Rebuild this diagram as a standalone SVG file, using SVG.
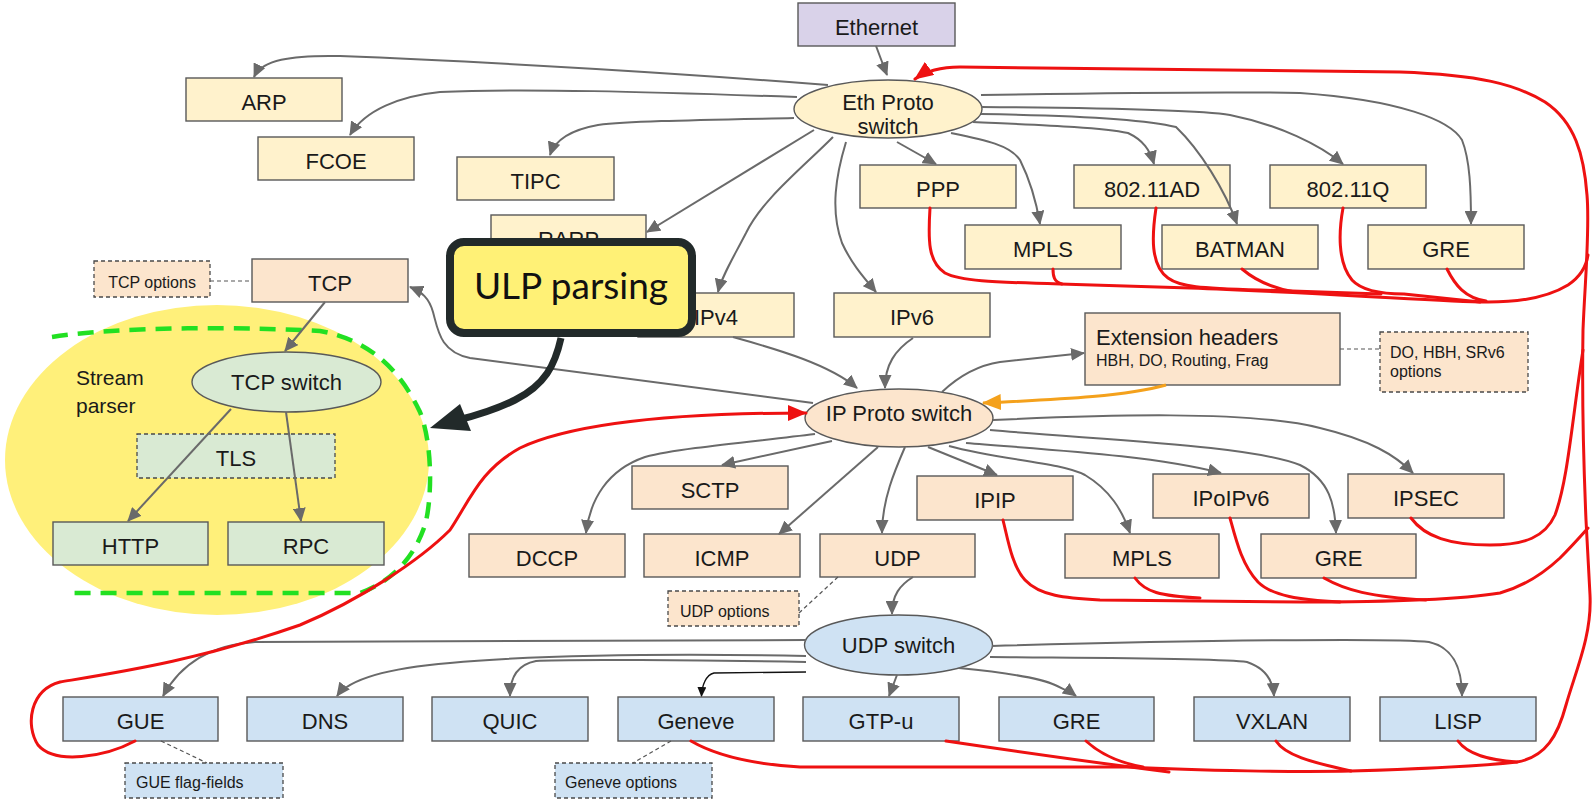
<svg xmlns="http://www.w3.org/2000/svg" width="1594" height="800" viewBox="0 0 1594 800">
  <defs>
    <style>
      .box { stroke: #595959; stroke-width: 1.4; }
      .dash { stroke: #4a4a4a; stroke-width: 1.3; stroke-dasharray: 4 3; }
      .eth { fill: #fff2cc; }
      .ip { fill: #fce5cd; }
      .udp { fill: #cfe2f3; }
      .tcp { fill: #d9ead3; }
      .lbl { font-family: "Liberation Sans", Arial, sans-serif; font-size: 22px; fill: #1a1a1a; text-anchor: middle; }
      .small { font-family: "Liberation Sans", Arial, sans-serif; font-size: 16px; fill: #1a1a1a; }
      .gray { fill: none; stroke: #6a6a6a; stroke-width: 2; marker-end: url(#ah-gray); }
      .red { fill: none; stroke: #ee1111; stroke-width: 3; stroke-linecap: round; stroke-linejoin: round; }
      .thin { fill: none; stroke: #555; stroke-width: 1.2; stroke-dasharray: 4 3; }
    </style>
    <marker id="ah-gray" markerUnits="userSpaceOnUse" markerWidth="15" markerHeight="13" refX="13" refY="6.5" orient="auto">
      <path d="M0,0 L14,6.5 L0,13 z" fill="#6a6a6a"/>
    </marker>
    <marker id="ah-red" markerUnits="userSpaceOnUse" markerWidth="20" markerHeight="16" refX="18" refY="8" orient="auto">
      <path d="M0,0 L19,8 L0,16 z" fill="#ee1111"/>
    </marker>
    <marker id="ah-orange" markerUnits="userSpaceOnUse" markerWidth="20" markerHeight="16" refX="18" refY="8" orient="auto">
      <path d="M0,0 L19,8 L0,16 z" fill="#f4a11c"/>
    </marker>
    <marker id="ah-black" markerUnits="userSpaceOnUse" markerWidth="10" markerHeight="9" refX="9" refY="4.5" orient="auto">
      <path d="M0,0 L10,4.5 L0,9 z" fill="#111"/>
    </marker>
  </defs>

  <rect width="1594" height="800" fill="#ffffff"/>

  <!-- stream parser area -->
  <g id="stream-parser">
    <ellipse cx="217" cy="460" rx="212" ry="155" fill="#fff07a"/>
    <path d="M52 337 C 120 326 250 327 320 331 C 370 340 400 370 420 412 C 433 445 432 500 425 525 C 415 555 395 580 360 593 L 70 593" fill="none" stroke="#22e022" stroke-width="4.5" stroke-dasharray="16 10"/>
    <text x="76" y="385" font-family="'Liberation Sans', Arial, sans-serif" font-size="21" fill="#1a1a1a">Stream</text>
    <text x="76" y="413" font-family="'Liberation Sans', Arial, sans-serif" font-size="21" fill="#1a1a1a">parser</text>
  </g>

  <!-- Ethernet layer -->
  <g id="ethernet"><rect class="box" x="798" y="3" width="157" height="43" fill="#d9d2e9"/><text class="lbl" x="876.5" y="35">Ethernet</text></g>
  <g id="eth-proto-switch"><ellipse class="box eth" cx="888" cy="109" rx="94" ry="29"/><text class="lbl" x="888" y="110">Eth Proto</text><text class="lbl" x="888" y="134">switch</text></g>
  <g id="arp"><rect class="box eth" x="186" y="78" width="156" height="43"/><text class="lbl" x="264" y="110">ARP</text></g>
  <g id="fcoe"><rect class="box eth" x="258" y="137" width="156" height="43"/><text class="lbl" x="336" y="169">FCOE</text></g>
  <g id="tipc"><rect class="box eth" x="457" y="157" width="157" height="43"/><text class="lbl" x="535.5" y="189">TIPC</text></g>
  <g id="rarp"><rect class="box eth" x="491" y="215" width="155" height="44"/><text class="lbl" x="568.5" y="247">RARP</text></g>
  <g id="ppp"><rect class="box eth" x="860" y="165" width="156" height="43"/><text class="lbl" x="938" y="197">PPP</text></g>
  <g id="eth-80211ad"><rect class="box eth" x="1074" y="165" width="156" height="43"/><text class="lbl" x="1152" y="197">802.11AD</text></g>
  <g id="eth-80211q"><rect class="box eth" x="1270" y="165" width="156" height="43"/><text class="lbl" x="1348" y="197">802.11Q</text></g>
  <g id="eth-mpls"><rect class="box eth" x="965" y="225" width="156" height="44"/><text class="lbl" x="1043" y="257">MPLS</text></g>
  <g id="batman"><rect class="box eth" x="1162" y="225" width="156" height="44"/><text class="lbl" x="1240" y="257">BATMAN</text></g>
  <g id="eth-gre"><rect class="box eth" x="1368" y="225" width="156" height="44"/><text class="lbl" x="1446" y="257">GRE</text></g>
  <g id="ipv4"><rect class="box eth" x="638" y="293" width="156" height="44"/><text class="lbl" x="716" y="325">IPv4</text></g>
  <g id="ipv6"><rect class="box eth" x="834" y="293" width="156" height="44"/><text class="lbl" x="912" y="325">IPv6</text></g>

  <!-- IP layer -->
  <g id="ip-proto-switch"><ellipse class="box ip" cx="899" cy="418" rx="94" ry="29"/><text class="lbl" x="899" y="421">IP Proto switch</text></g>
  <g id="tcp"><rect class="box ip" x="252" y="259" width="156" height="43"/><text class="lbl" x="330" y="291">TCP</text></g>
  <g id="tcp-options"><rect class="dash ip" x="94" y="261" width="116" height="36"/><text class="small" x="152" y="288" text-anchor="middle">TCP options</text></g>
  <g id="ext-headers"><rect class="box ip" x="1085" y="313" width="255" height="72"/><text x="1096" y="345" font-family="'Liberation Sans', Arial, sans-serif" font-size="22" fill="#1a1a1a">Extension headers</text><text class="small" x="1096" y="366">HBH, DO, Routing, Frag</text></g>
  <g id="ext-options"><rect class="dash ip" x="1380" y="332" width="148" height="60"/><text class="small" x="1390" y="358">DO, HBH, SRv6</text><text class="small" x="1390" y="377">options</text></g>
  <g id="sctp"><rect class="box ip" x="632" y="466" width="156" height="43"/><text class="lbl" x="710" y="498">SCTP</text></g>
  <g id="dccp"><rect class="box ip" x="469" y="534" width="156" height="43"/><text class="lbl" x="547" y="566">DCCP</text></g>
  <g id="icmp"><rect class="box ip" x="644" y="534" width="156" height="43"/><text class="lbl" x="722" y="566">ICMP</text></g>
  <g id="udp"><rect class="box ip" x="820" y="534" width="155" height="43"/><text class="lbl" x="897.5" y="566">UDP</text></g>
  <g id="udp-options"><rect class="dash ip" x="668" y="591" width="131" height="35"/><text class="small" x="680" y="617">UDP options</text></g>
  <g id="ipip"><rect class="box ip" x="917" y="476" width="156" height="44"/><text class="lbl" x="995" y="508">IPIP</text></g>
  <g id="ipoipv6"><rect class="box ip" x="1153" y="474" width="156" height="44"/><text class="lbl" x="1231" y="506">IPoIPv6</text></g>
  <g id="ipsec"><rect class="box ip" x="1348" y="474" width="156" height="44"/><text class="lbl" x="1426" y="506">IPSEC</text></g>
  <g id="ip-mpls"><rect class="box ip" x="1065" y="534" width="154" height="44"/><text class="lbl" x="1142" y="566">MPLS</text></g>
  <g id="ip-gre"><rect class="box ip" x="1261" y="534" width="155" height="44"/><text class="lbl" x="1338.5" y="566">GRE</text></g>

  <!-- TCP stream nodes -->
  <g id="tcp-switch"><ellipse class="box tcp" cx="286.5" cy="382" rx="94.5" ry="30"/><text class="lbl" x="286.5" y="390">TCP switch</text></g>
  <g id="tls"><rect class="dash tcp" x="137" y="434" width="198" height="44"/><text class="lbl" x="236" y="466">TLS</text></g>
  <g id="http"><rect class="box tcp" x="53" y="522" width="155" height="43"/><text class="lbl" x="130.5" y="554">HTTP</text></g>
  <g id="rpc"><rect class="box tcp" x="228" y="522" width="156" height="43"/><text class="lbl" x="306" y="554">RPC</text></g>

  <!-- UDP layer -->
  <g id="udp-switch"><ellipse class="box udp" cx="898.5" cy="645" rx="94" ry="30"/><text class="lbl" x="898.5" y="653">UDP switch</text></g>
  <g id="gue"><rect class="box udp" x="63" y="697" width="155" height="44"/><text class="lbl" x="140.5" y="729">GUE</text></g>
  <g id="dns"><rect class="box udp" x="247" y="697" width="156" height="44"/><text class="lbl" x="325" y="729">DNS</text></g>
  <g id="quic"><rect class="box udp" x="432" y="697" width="156" height="44"/><text class="lbl" x="510" y="729">QUIC</text></g>
  <g id="geneve"><rect class="box udp" x="618" y="697" width="156" height="44"/><text class="lbl" x="696" y="729">Geneve</text></g>
  <g id="gtp-u"><rect class="box udp" x="803" y="697" width="156" height="44"/><text class="lbl" x="881" y="729">GTP-u</text></g>
  <g id="udp-gre"><rect class="box udp" x="999" y="697" width="155" height="44"/><text class="lbl" x="1076.5" y="729">GRE</text></g>
  <g id="vxlan"><rect class="box udp" x="1194" y="697" width="156" height="44"/><text class="lbl" x="1272" y="729">VXLAN</text></g>
  <g id="lisp"><rect class="box udp" x="1380" y="697" width="156" height="44"/><text class="lbl" x="1458" y="729">LISP</text></g>
  <g id="gue-flags"><rect class="dash udp" x="125" y="763" width="158" height="35"/><text class="small" x="136" y="788">GUE flag-fields</text></g>
  <g id="geneve-options"><rect class="dash udp" x="555" y="763" width="157" height="35"/><text class="small" x="565" y="788">Geneve options</text></g>

  <g id="connectors">
    <!-- option links -->
    <path class="thin" d="M210 281 L252 281"/>
    <path class="thin" d="M1340 349 L1380 349"/>
    <path class="thin" d="M799 613 L838 577"/>
    <path class="thin" d="M161 741 L207 763"/>
    <path class="thin" d="M671 741 L633 763"/>

    <!-- Ethernet parsing -->
    <path class="gray" d="M876 46 L887 75"/>
    <path class="gray" d="M828 85 C 700 75 500 62 340 56 C 290 55 262 60 254 77"/>
    <path class="gray" d="M797 97 C 650 92 520 88 440 92 C 400 96 365 110 350 135"/>
    <path class="gray" d="M794 118 C 700 120 630 121 598 125 C 570 130 555 140 550 155"/>
    <path class="gray" d="M814 130 L647 232"/>
    <path class="gray" d="M833 137 C 800 170 762 200 746 233 C 732 260 722 276 718 292"/>
    <path class="gray" d="M846 142 C 836 175 830 210 842 243 C 852 265 866 280 876 292"/>
    <path class="gray" d="M897 142 L936 164"/>
    <path class="gray" d="M951 133 C 985 140 1010 145 1020 160 C 1030 180 1036 200 1040 224"/>
    <path class="gray" d="M973 122 C 1040 125 1100 127 1128 133 C 1143 140 1150 150 1154 164"/>
    <path class="gray" d="M981 114 C 1050 115 1140 118 1176 127 C 1200 150 1225 190 1237 224"/>
    <path class="gray" d="M981 107 C 1100 108 1200 110 1230 115 C 1280 125 1320 145 1343 164"/>
    <path class="gray" d="M981 95 C 1100 93 1250 92 1300 93 C 1400 100 1450 120 1462 140 C 1470 160 1471 190 1471 224"/>
    <path class="gray" d="M733 337 C 780 350 830 365 857 388"/>
    <path class="gray" d="M913 338 C 895 350 885 365 885 388"/>

    <!-- IP parsing -->
    <path class="gray" d="M813 403 L 470 358 C 440 352 438 330 433 312 C 429 298 422 292 410 287"/>
    <path class="gray" d="M942 392 C 960 375 980 365 1000 362 L 1084 353"/>
    <path d="M1166 385 C 1120 398 1040 400 983 403" fill="none" stroke="#f4a11c" stroke-width="3" marker-end="url(#ah-orange)"/>
    <path class="gray" d="M815 434 C 750 442 680 448 645 457 C 607 470 590 500 586 533"/>
    <path class="gray" d="M832 441 L722 465"/>
    <path class="gray" d="M878 447 L779 534"/>
    <path class="gray" d="M905 447 C 895 470 882 500 882 533"/>
    <path class="gray" d="M928 447 L997 475"/>
    <path class="gray" d="M949 446 C 1000 460 1060 462 1085 475 C 1110 490 1122 510 1130 533"/>
    <path class="gray" d="M966 443 C 1050 450 1150 455 1221 473"/>
    <path class="gray" d="M990 430 C 1100 440 1250 445 1300 465 C 1330 480 1335 505 1336 533"/>
    <path class="gray" d="M993 420 C 1100 415 1250 410 1320 428 C 1370 440 1395 455 1413 473"/>

    <!-- TCP stream -->
    <path class="gray" d="M325 302 L285 351"/>
    <path class="gray" d="M231 409 L128 521"/>
    <path class="gray" d="M286 412 L301 521"/>

    <!-- UDP parsing -->
    <path class="gray" d="M913 577 C 900 585 892 595 892 614"/>
    <path class="gray" d="M806 640 C 600 641 400 640 255 642 C 210 645 180 665 163 696"/>
    <path class="gray" d="M806 656 C 650 653 520 656 450 663 C 390 668 350 678 337 696"/>
    <path class="gray" d="M806 662 C 700 660 560 659 536 661 C 515 665 510 680 510 696"/>
    <path d="M806 672 L 714 673 C 706 675 702 685 701.5 696" fill="none" stroke="#111" stroke-width="1.3" marker-end="url(#ah-black)"/>
    <path class="gray" d="M897 675 L889 696"/>
    <path class="gray" d="M959 668 C 1000 672 1040 678 1055 685 C 1065 690 1072 693 1076 696"/>
    <path class="gray" d="M990 657 C 1100 658 1220 658 1247 662 C 1265 668 1273 680 1274 696"/>
    <path class="gray" d="M992 646 C 1200 640 1400 638 1429 642 C 1455 648 1462 670 1462 696"/>

    <!-- loop back: Eth level -->
    <path class="red" d="M930 208 C 928 240 928 262 945 273 C 960 281 990 282 1060 284 L 1190 288 C 1300 292 1420 300 1480 302 C 1520 303 1550 296 1568 285 C 1580 277 1586 268 1588 255"/>
    <path class="red" d="M1053 269 C 1053 276 1054 282 1062 284"/>
    <path class="red" d="M1156 208 C 1152 235 1150 265 1168 278 C 1180 287 1200 288 1260 290 L 1381 294"/>
    <path class="red" d="M1242 269 C 1255 280 1270 288 1295 292"/>
    <path class="red" d="M1343 208 C 1339 230 1337 262 1352 280 C 1362 291 1385 294 1404 294 L 1480 302"/>
    <path class="red" d="M1447 269 C 1455 285 1465 298 1486 301"/>

    <!-- loop back: IP level -->
    <path class="red" d="M1003 520 C 1008 540 1012 566 1025 580 C 1040 596 1065 598 1100 600 L 1300 602 C 1400 602 1470 598 1500 593 C 1525 586 1545 572 1560 558 C 1572 546 1580 537 1588 528"/>
    <path class="red" d="M1135 578 C 1145 592 1160 596 1200 598"/>
    <path class="red" d="M1230 518 C 1236 540 1242 565 1258 582 C 1272 596 1300 600 1340 602"/>
    <path class="red" d="M1324 578 C 1345 590 1370 597 1426 600"/>
    <path class="red" d="M1411 518 C 1425 537 1450 545 1490 545 C 1525 545 1545 537 1555 515 C 1568 480 1572 420 1583 350"/>

    <!-- loop back: UDP level, right trunk to Eth Proto switch -->
    <path class="red" marker-end="url(#ah-red)" d="M691 741 C 715 755 750 764 800 767 L 1130 767 C 1200 771 1300 772 1351 771 C 1420 769 1480 766 1517 762 C 1546 757 1558 735 1566 705 C 1576 670 1592 635 1590 595 L 1586 520 C 1583 450 1582 390 1583 330 C 1585 280 1590 230 1587 195 C 1584 155 1575 122 1545 102 C 1515 84 1480 75 1400 72 L 960 67 C 940 67 926 71 915 79"/>
    <path class="red" d="M946 741 C 1020 752 1090 762 1169 772"/>
    <path class="red" d="M1086 741 C 1098 752 1115 762 1143 767"/>
    <path class="red" d="M1276 741 C 1285 755 1310 762 1351 771"/>
    <path class="red" d="M1458 741 C 1468 755 1490 760 1517 762"/>

    <!-- GUE back to IP Proto switch -->
    <path class="red" marker-end="url(#ah-red)" d="M135 741 C 105 757 55 765 38 745 C 25 725 30 690 60 682 C 120 672 200 660 300 625 C 360 600 420 560 450 530 C 470 500 480 470 520 448 C 580 420 700 413 806 413"/>
  </g>

  <!-- callout -->
  <g id="ulp-parsing">
    <path d="M561 338 C 555 365 545 385 515 400 C 497 409 478 415 458 420" fill="none" stroke="#222a2a" stroke-width="7"/>
    <polygon points="430,428 460,404 471,431" fill="#222a2a"/>
    <rect x="450" y="242" width="242" height="91" rx="14" fill="#fff176" stroke="#222a2a" stroke-width="8"/>
    <text x="571" y="299" font-family="Lato, 'Liberation Sans', sans-serif" font-size="37" fill="#111" text-anchor="middle">ULP parsing</text>
  </g>
</svg>
